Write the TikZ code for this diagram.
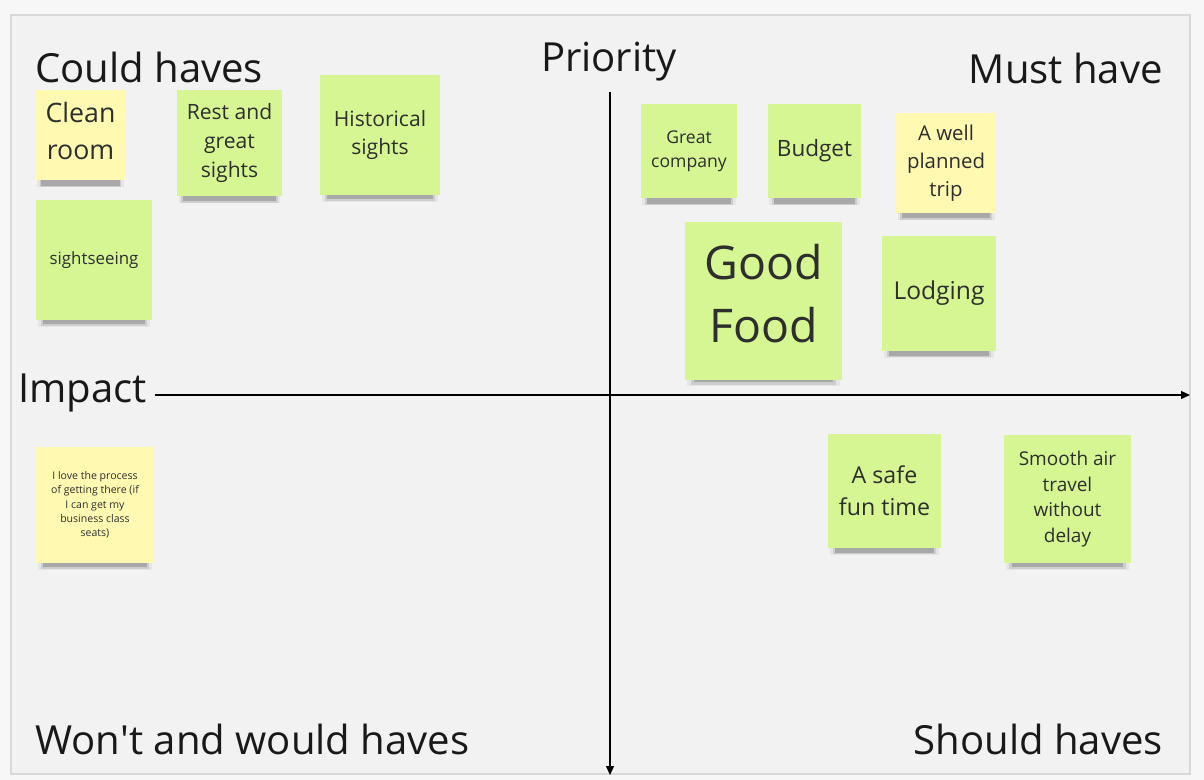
\documentclass[tikz,border=0pt]{standalone}
\usepackage{fontspec}
\setmainfont{Open Sans}
\usetikzlibrary{shadows,arrows.meta}

\definecolor{tafel}{HTML}{F2F2F2}
\definecolor{rand}{HTML}{D9D9D9}
\definecolor{gruen}{HTML}{D5F692}
\definecolor{gelb}{HTML}{FFF9B1}
\definecolor{schrift}{HTML}{2E2E2E}

\newdimen\px \px=0.025cm
\newcommand{\gr}[1]{\fontsize{#1}{1.36\dimexpr #1\relax}\selectfont}

\tikzset{
	zettel/.style={draw=none, fill=#1, text=schrift, align=center, inner sep=0pt,
		drop shadow={shadow xshift=0pt, shadow yshift=-9\px, shadow scale=.97, fill=black, opacity=.05},
		drop shadow={shadow xshift=0pt, shadow yshift=-12\px, shadow scale=.92, fill=black, opacity=.10},
		drop shadow={shadow xshift=0pt, shadow yshift=-13\px, shadow scale=.88, fill=black, opacity=.18}},
	titel/.style={text=black!90, font=\gr{28.5pt}, inner sep=0pt},
	achse/.style={->, >={Triangle[length=6.4pt, width=5.7pt]}, line width=1.2\px, black}
}

\begin{document}
\begin{tikzpicture}[x=0.025cm, y=-0.025cm]
	% Hintergrund
	\fill[white!97!black] (0,0) rectangle (1204,780);
	\useasboundingbox (0,0) rectangle (1204,780);
	\draw[rand, fill=tafel, line width=1.5\px] (11,15) rectangle (1190,774);
	% Ueberschriften
	\node[titel, anchor=west] (could) at (35,67) {Could haves};
	\node[titel, anchor=east] (must) at (1163,68) {Must have};
	\node[titel, anchor=west] (wont) at (35,739) {Won\textquotesingle t and would haves};
	\node[titel, anchor=east] (should) at (1163,739) {Should haves};
	\node[titel] (prio) at (609,62) {Priority};
	\node[titel, anchor=west] (impact) at (18,393) {Impact};
	% Achsen
	\coordinate (oben) at (610,92);
	\coordinate (unten) at (610,775);
	\coordinate (rechts) at (1190,395);
	\coordinate (links) at (155,395);
	\draw[achse] (oben) -- (unten);
	\draw[achse] (links) -- (rechts);
	% Zettel oben links
	\node[zettel=gelb, minimum width=89\px, minimum height=90\px, font=\gr{19pt}] (clean) at (80.5,135) {Clean\\room\\[-28\px]};
	\node[zettel=gruen, minimum width=105\px, minimum height=106\px, font=\gr{15pt}] (rest) at (229.5,143) {Rest and\\great\\sights};
	\node[zettel=gruen, minimum width=120\px, minimum height=120\px, font=\gr{15pt}] (hist) at (380,135) {Historical\\sights};
	\node[zettel=gruen, minimum width=116\px, minimum height=120\px, font=\gr{12pt}] (sight) at (94,260) {sightseeing};
	% Zettel unten links
	\node[zettel=gelb, minimum width=118\px, minimum height=116\px, font=\gr{7.5pt}] (love) at (95,505) {I love the process\\of getting there (if\\I can get my\\business class\\seats)};
	% Zettel oben rechts
	\node[zettel=gruen, minimum width=96\px, minimum height=94\px, font=\gr{12.5pt}] (company) at (689,151) {Great\\company};
	\node[zettel=gruen, minimum width=93\px, minimum height=94\px, font=\gr{16pt}] (budget) at (814.5,151) {Budget};
	\node[zettel=gelb, minimum width=100\px, minimum height=100\px, font=\gr{14.5pt}] (trip) at (946,163) {A well\\planned\\trip};
	\node[zettel=gruen, minimum width=157\px, minimum height=158\px, font=\gr{33pt}] (food) at (763.5,301) {Good\\Food\\[-48\px]};
	\node[zettel=gruen, minimum width=114\px, minimum height=115\px, font=\gr{17.5pt}] (lodging) at (939,293.5) {Lodging};
	% Zettel unten rechts
	\node[zettel=gruen, minimum width=113\px, minimum height=114\px, font=\gr{16.5pt}] (safe) at (884.5,491) {A safe\\fun time};
	\node[zettel=gruen, minimum width=127\px, minimum height=128\px, font=\gr{13.5pt}] (smooth) at (1067.5,499) {Smooth air\\travel\\without\\delay};
\end{tikzpicture}
\end{document}
